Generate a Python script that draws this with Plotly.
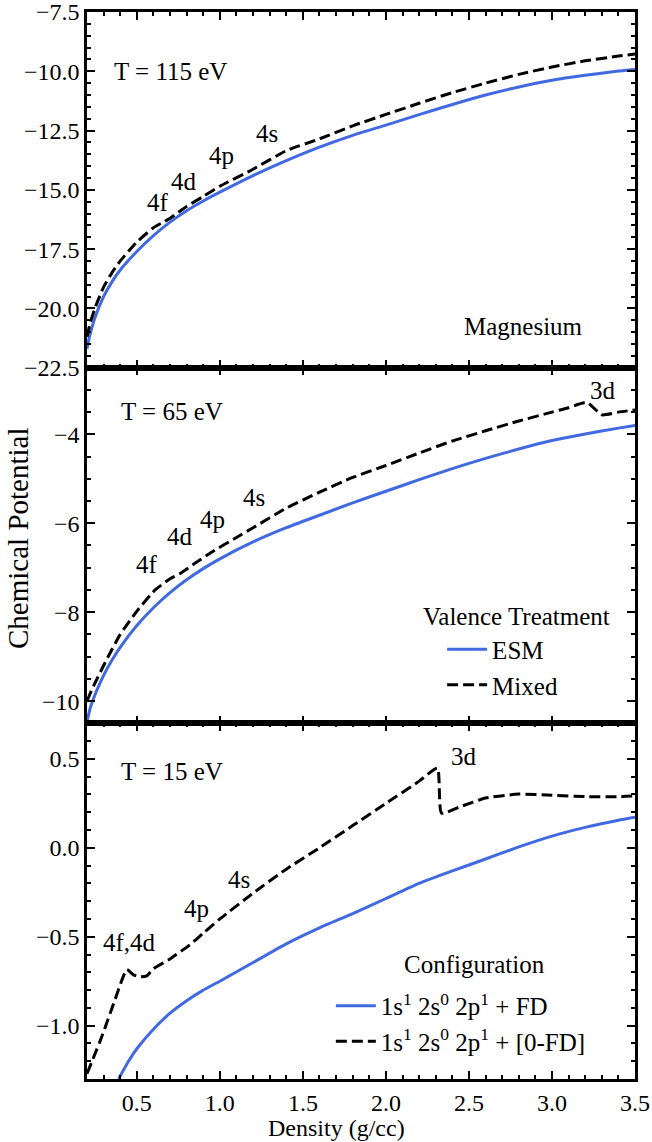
import plotly.graph_objects as go
from plotly.subplots import make_subplots

# ---- T = 115 eV ----
rho_115_esm = [0.2, 0.21, 0.22, 0.25, 0.3, 0.35, 0.4, 0.5, 0.6, 0.7, 0.8, 0.9, 1.0, 1.2, 1.4, 1.6, 1.8, 2.0, 2.2, 2.4, 2.6, 2.8, 3.0, 3.2, 3.4, 3.5]
mu_115_esm = [-21.7, -21.35, -21.05, -20.35, -19.5, -18.88, -18.38, -17.6, -16.93, -16.36, -15.88, -15.47, -15.1, -14.4, -13.77, -13.2, -12.7, -12.27, -11.83, -11.4, -11.0, -10.66, -10.38, -10.17, -9.99, -9.92]
rho_115_mix = [0.2, 0.21, 0.22, 0.25, 0.3, 0.35, 0.4, 0.5, 0.6, 0.65, 0.7, 0.75, 0.8, 0.9, 1.0, 1.2, 1.4, 1.6, 1.8, 2.0, 2.2, 2.4, 2.6, 2.8, 3.0, 3.2, 3.4, 3.5]
mu_115_mix = [-21.2, -20.88, -20.6, -19.95, -19.1, -18.5, -18.0, -17.2, -16.6, -16.4, -16.2, -15.95, -15.7, -15.28, -14.85, -14.13, -13.35, -12.85, -12.3, -11.82, -11.35, -10.9, -10.5, -10.13, -9.82, -9.56, -9.36, -9.27]

# ---- T = 65 eV ----
rho_65_esm = [0.2, 0.21, 0.22, 0.25, 0.3, 0.35, 0.4, 0.5, 0.6, 0.7, 0.8, 0.9, 1.0, 1.2, 1.4, 1.6, 1.8, 2.0, 2.2, 2.4, 2.6, 2.8, 3.0, 3.2, 3.4, 3.5]
mu_65_esm = [-10.47, -10.3, -10.15, -9.84, -9.42, -9.08, -8.79, -8.3, -7.9, -7.56, -7.27, -7.02, -6.8, -6.42, -6.1, -5.82, -5.54, -5.28, -5.02, -4.77, -4.54, -4.33, -4.14, -3.99, -3.86, -3.8]
rho_65_mix = [0.2, 0.22, 0.25, 0.3, 0.35, 0.4, 0.5, 0.61, 0.7, 0.76, 0.85, 0.95, 1.1, 1.2, 1.4, 1.6, 1.8, 2.0, 2.2, 2.4, 2.6, 2.8, 3.0, 3.1, 3.21, 3.3, 3.4, 3.5]
mu_65_mix = [-10.0, -9.82, -9.58, -9.2, -8.84, -8.5, -7.98, -7.5, -7.25, -7.13, -6.9, -6.65, -6.32, -6.1, -5.66, -5.3, -4.97, -4.7, -4.42, -4.15, -3.92, -3.7, -3.5, -3.4, -3.28, -3.56, -3.5, -3.45]

# ---- T = 15 eV ----
rho_15_fd = [0.39, 0.45, 0.5, 0.6, 0.7, 0.8, 0.9, 1.0, 1.2, 1.4, 1.6, 1.8, 2.0, 2.2, 2.4, 2.6, 2.8, 3.0, 3.2, 3.4, 3.5]
mu_15_fd = [-1.3, -1.2, -1.13, -1.02, -0.93, -0.86, -0.8, -0.75, -0.645, -0.54, -0.45, -0.37, -0.285, -0.2, -0.13, -0.063, 0.005, 0.066, 0.115, 0.155, 0.172]
rho_15_zfd = [0.2, 0.29, 0.37, 0.44, 0.48, 0.52, 0.56, 0.6, 0.7, 0.82, 0.9, 1.0, 1.2, 1.4, 1.6, 1.8, 2.0, 2.2, 2.31, 2.335, 2.45, 2.6, 2.8, 3.0, 3.2, 3.4, 3.5]
mu_15_zfd = [-1.27, -1.06, -0.85, -0.685, -0.715, -0.725, -0.72, -0.68, -0.625, -0.545, -0.48, -0.4, -0.255, -0.12, 0.0, 0.125, 0.25, 0.375, 0.448, 0.195, 0.232, 0.28, 0.302, 0.295, 0.288, 0.287, 0.292]

# orbital labels: (text, density, potential)
labels_115 = [("T = 115 eV", 0.7, -10.03), ("4f", 0.626, -15.52), ("4d", 0.782, -14.64),
              ("4p", 1.01, -13.54), ("4s", 1.286, -12.61), ("Magnesium", 2.83, -20.76)]
labels_65 = [("T = 65 eV", 0.71, -3.48), ("4f", 0.56, -6.92), ("4d", 0.758, -6.29),
             ("4p", 0.956, -5.91), ("4s", 1.208, -5.42), ("3d", 3.307, -3.01)]
labels_15 = [("T = 15 eV", 0.71, 0.427), ("4f,4d", 0.458, -0.534), ("4p", 0.86, -0.343),
             ("4s", 1.118, -0.18), ("3d", 2.468, 0.511)]

BLUE = "#4169E1"
FONT = "Liberation Serif"
DASH = "11px,5px"
SMOOTH = dict(shape="spline", smoothing=0.5)

fig = make_subplots(rows=3, cols=1, shared_xaxes=True, vertical_spacing=0)

fig.add_trace(go.Scatter(x=rho_115_esm, y=mu_115_esm, mode="lines", line=dict(color=BLUE, width=3, **SMOOTH),
                         showlegend=False), row=1, col=1)
fig.add_trace(go.Scatter(x=rho_115_mix, y=mu_115_mix, mode="lines",
                         line=dict(color="black", width=3, dash=DASH, **SMOOTH),
                         showlegend=False), row=1, col=1)

fig.add_trace(go.Scatter(x=rho_65_esm, y=mu_65_esm, mode="lines", name="ESM",
                         line=dict(color=BLUE, width=3, **SMOOTH), legend="legend"), row=2, col=1)
fig.add_trace(go.Scatter(x=rho_65_mix, y=mu_65_mix, mode="lines", name="Mixed",
                         line=dict(color="black", width=3, dash=DASH, **SMOOTH), legend="legend"), row=2, col=1)

fig.add_trace(go.Scatter(x=rho_15_fd, y=mu_15_fd, mode="lines",
                         name="1s<sup>1</sup> 2s<sup>0</sup> 2p<sup>1</sup> + FD",
                         line=dict(color=BLUE, width=3, **SMOOTH), legend="legend2"), row=3, col=1)
fig.add_trace(go.Scatter(x=rho_15_zfd, y=mu_15_zfd, mode="lines",
                         name="1s<sup>1</sup> 2s<sup>0</sup> 2p<sup>1</sup> + [0-FD]",
                         line=dict(color="black", width=3, dash=DASH, **SMOOTH), legend="legend2"), row=3, col=1)

for row, labels in ((1, labels_115), (2, labels_65), (3, labels_15)):
    for text, xv, yv in labels:
        fig.add_annotation(x=xv, y=yv, text=text, showarrow=False, row=row, col=1,
                           xanchor="center", yanchor="middle",
                           font=dict(family=FONT, size=25, color="black"))

paper_text = dict(xref="paper", yref="paper", showarrow=False, xanchor="center", yanchor="middle")

# legend headings, centred above their entries
fig.add_annotation(x=0.783, y=0.433, text="Valence Treatment",
                   font=dict(family=FONT, size=25, color="black"), **paper_text)
fig.add_annotation(x=0.708, y=0.107, text="Configuration",
                   font=dict(family=FONT, size=25, color="black"), **paper_text)

# shared axis titles
fig.add_annotation(x=0.456, y=-0.0455, text="Density (g/cc)",
                   font=dict(family=FONT, size=24, color="black"), **paper_text)
fig.add_annotation(x=-0.126, y=0.507, text="Chemical Potential", textangle=-90,
                   font=dict(family=FONT, size=29, color="black"), **paper_text)

axis_common = dict(showline=True, linecolor="black", linewidth=2.5, mirror="allticks",
                   ticks="inside", ticklen=8, tickwidth=2, tickcolor="black",
                   showgrid=False, zeroline=False, automargin=False, ticklabeloverflow="allow",
                   tickfont=dict(family=FONT, size=24, color="black"))

for r in (1, 2, 3):
    fig.update_xaxes(range=[0.2, 3.5], tickvals=[0.5, 1.0, 1.5, 2.0, 2.5, 3.0, 3.5], tickformat=".1f",
                     minor=dict(dtick=0.1, tick0=0, ticks="inside", ticklen=4, tickwidth=1.5, tickcolor="black"),
                     row=r, col=1, **axis_common)

fig.update_yaxes(range=[-22.5, -7.5], tickvals=[-7.5, -10, -12.5, -15, -17.5, -20, -22.5], tickformat=".1f",
                 minor=dict(dtick=0.5, tick0=0, ticks="inside", ticklen=4, tickwidth=1.5, tickcolor="black"),
                 row=1, col=1, **axis_common)
fig.update_yaxes(range=[-10.5, -2.5], tickvals=[-4, -6, -8, -10], tickformat="d",
                 minor=dict(dtick=0.5, tick0=0, ticks="inside", ticklen=4, tickwidth=1.5, tickcolor="black"),
                 row=2, col=1, **axis_common)
fig.update_yaxes(range=[-1.3, 0.7], tickvals=[0.5, 0.0, -0.5, -1.0], tickformat=".1f",
                 minor=dict(dtick=0.1, tick0=0, ticks="inside", ticklen=4, tickwidth=1.5, tickcolor="black"),
                 row=3, col=1, **axis_common)

legend_common = dict(bgcolor="rgba(0,0,0,0)", borderwidth=0, xanchor="left", yanchor="top",
                     font=dict(family=FONT, size=25, color="black"), tracegroupgap=0, itemwidth=40)

fig.update_layout(
    width=652, height=1142,
    margin=dict(l=87, r=17, t=12, b=63, autoexpand=False),
    paper_bgcolor="white", plot_bgcolor="white",
    legend=dict(x=0.648, y=0.424, **legend_common),
    legend2=dict(x=0.445, y=0.09, **legend_common),
)

fig.write_html("out.html")
